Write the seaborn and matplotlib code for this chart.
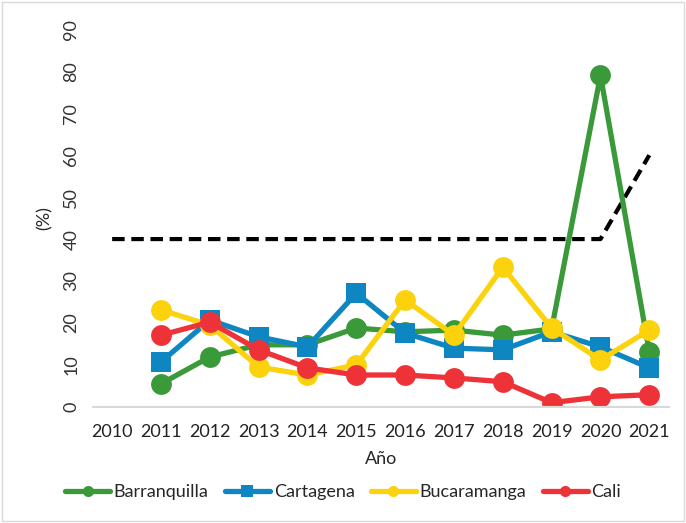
import numpy as np
import pandas as pd
import seaborn as sns
import matplotlib.pyplot as plt
from matplotlib.lines import Line2D

# 数据
years = [2010, 2011, 2012, 2013, 2014, 2015, 2016, 2017, 2018, 2019, 2020, 2021]
barranquilla = [np.nan, 5.5, 11.9, 14.8, 14.8, 18.8, 17.9, 18.3, 17.1, 18.6, 79.0, 13.1]
cartagena = [np.nan, 10.7, 20.7, 16.7, 14.3, 27.1, 17.6, 14.0, 13.6, 17.9, 14.3, 9.3]
bucaramanga = [np.nan, 23.1, 19.5, 9.5, 7.6, 10.0, 25.5, 17.1, 33.3, 18.8, 11.2, 18.3]
cali = [np.nan, 17.1, 20.2, 13.6, 9.3, 7.6, 7.6, 6.9, 6.0, 1.0, 2.4, 2.9]
umbral = [40, 40, 40, 40, 40, 40, 40, 40, 40, 40, 40, 60]

series = {
    'Barranquilla': (barranquilla, '#3a9a3a', 'o'),
    'Cartagena': (cartagena, '#0e86c1', 's'),
    'Bucaramanga': (bucaramanga, '#fbd20b', 'o'),
    'Cali': (cali, '#ee3338', 'o'),
}

sns.set_style('white')
plt.rcParams['font.family'] = ['Lato', 'DejaVu Sans']

fig = plt.figure(figsize=(6.86, 5.23), dpi=100)
ax = fig.add_axes([0.135, 0.222, 0.84, 0.722])

x = np.arange(len(years))
sns.lineplot(x=x, y=umbral, ax=ax, color='black', lw=3, linestyle=(0, (3, 1.6)), legend=False)
for name, (vals, col, mk) in series.items():
    sns.lineplot(x=x, y=vals, ax=ax, color=col, lw=3.8, marker=mk, markersize=15,
                 markeredgewidth=0, legend=False)

ax.set_xlim(-0.4, len(years) - 0.6)
ax.set_ylim(0, 90)
ax.set_yticks(range(0, 91, 10))
ax.set_xticks(x)
ax.set_xticklabels(years)
ax.tick_params(axis='y', labelrotation=90, labelsize=13, colors='#333333', pad=6)
ax.tick_params(axis='x', labelsize=13, colors='#222222', pad=9)
for lab in ax.get_yticklabels():
    lab.set_va('center')
ax.set_ylabel('(%)', fontsize=13, labelpad=8)
ax.set_xlabel('Año', fontsize=13, labelpad=8)
for s in ['top', 'right', 'left']:
    ax.spines[s].set_visible(False)
ax.spines['bottom'].set_color('#d9d9d9')
ax.spines['bottom'].set_linewidth(1.5)

handles = [Line2D([], [], color=col, lw=3.8, marker=mk, markersize=8, markeredgewidth=0)
           for vals, col, mk in series.values()]
fig.legend(handles, list(series.keys()), loc='lower center', ncol=4, frameon=False, fontsize=13,
           bbox_to_anchor=(0.5, 0.012), handlelength=2.5, handletextpad=0.2, columnspacing=0.9)

# 外边框
fig.patches.append(plt.Rectangle((0.003, 0.003), 0.994, 0.994, transform=fig.transFigure,
                                 fill=False, edgecolor='#d9d9d9', lw=1))

fig.savefig('out.png', dpi=100)
